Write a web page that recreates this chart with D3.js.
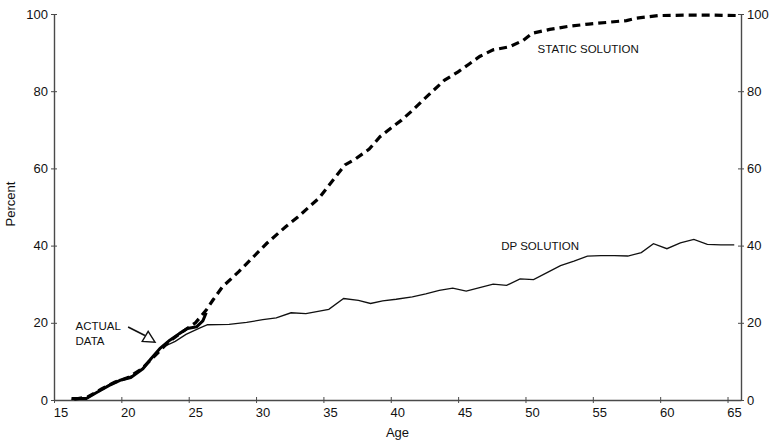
<!DOCTYPE html>
<html>
<head>
<meta charset="utf-8">
<script src="https://cdn.jsdelivr.net/npm/d3@7"></script>
<style>
	body { margin: 0; background: #fff; }
	svg { display: block; font-family: "Liberation Sans", Arial, sans-serif; }
	.tick-label { font-size: 13px; fill: #111; }
	.note { font-size: 11.5px; fill: #111; }
</style>
</head>
<body>
<svg id="chart" width="776" height="444"></svg>
<script>

// Axis ticks
const xTicks = [15, 20, 25, 30, 35, 40, 45, 50, 55, 60, 65];
const yTicks = [0, 20, 40, 60, 80, 100];

// Static solution (dashed)
const staticAge = [16.5, 17.5, 18.5, 19.5, 20.5, 21.5, 22.5, 23.5, 24.5, 25.5, 26.3, 26.8, 27.5, 28.7, 29.8, 30.8, 32.2, 33.1, 34.7, 35.9, 36.6, 37.4, 38.4, 39.2, 40.0, 40.8, 41.6, 42.4, 43.2, 44.0, 45.0, 45.8, 46.6, 47.6, 48.8, 49.8, 50.5, 51.8, 53.2, 54.7, 56.0, 57.5, 58.2, 59.9, 61.9, 63.9, 65.75];
const staticPct = [0.2, 0.8, 2.8, 4.6, 5.8, 8.0, 11.5, 15.0, 17.6, 20.0, 23.3, 25.9, 29.3, 33.2, 37.1, 40.6, 44.9, 47.4, 52.4, 57.8, 60.9, 62.5, 65.0, 68.2, 70.4, 72.5, 75.0, 77.7, 80.3, 82.9, 85.0, 87.0, 89.0, 90.7, 91.5, 93.1, 95.0, 96.0, 96.8, 97.4, 97.8, 98.3, 98.9, 99.6, 99.7, 99.7, 99.6];

// DP solution (thin)
const dpAge = [16.3, 17.4, 18.2, 19.2, 20.0, 20.8, 21.6, 22.2, 22.9, 24.0, 24.8, 25.8, 26.4, 28.0, 29.3, 30.5, 31.5, 32.6, 33.7, 35.4, 36.5, 37.6, 38.5, 39.4, 40.4, 41.6, 42.6, 43.6, 44.6, 45.6, 46.6, 47.6, 48.6, 49.6, 50.6, 51.6, 52.6, 53.6, 54.6, 55.6, 56.6, 57.6, 58.6, 59.5, 60.5, 61.5, 62.5, 63.5, 64.5, 65.5];
const dpPct = [0.2, 0.3, 2.0, 4.2, 5.3, 6.3, 8.3, 10.8, 13.4, 15.2, 17.0, 18.6, 19.5, 19.6, 20.1, 20.8, 21.3, 22.6, 22.4, 23.5, 26.3, 25.8, 25.0, 25.7, 26.1, 26.7, 27.5, 28.4, 29.0, 28.2, 29.1, 30.0, 29.7, 31.4, 31.2, 33.0, 34.8, 36.0, 37.3, 37.4, 37.4, 37.3, 38.2, 40.5, 39.2, 40.7, 41.6, 40.3, 40.2, 40.2];

// Actual data (thick)
const actualAge = [16.3, 17.4, 18.1, 19.1, 19.9, 20.7, 21.6, 22.2, 22.85, 23.6, 24.3, 24.9, 25.6, 26.05, 26.3];
const actualPct = [0.4, 0.4, 1.8, 3.8, 5.1, 5.8, 8.1, 10.7, 13.3, 15.5, 17.2, 18.5, 19.0, 20.5, 22.6];

const svg = d3.select('#chart');
const m = { l: 54, r: 741, t: 14, b: 400 };

const x = d3.scaleLinear().domain([15, 66]).range([m.l, m.r]);
const y = d3.scaleLinear().domain([0, 100]).range([m.b, m.t]);

const axisColor = '#4a4a4a';

// X axis (ticks cross the line)
const gx = svg.append('g').attr('transform', 'translate(0,' + m.b + ')');
gx.call(d3.axisBottom(x).tickValues(xTicks).tickSize(3).tickSizeOuter(0));
gx.select('.domain').attr('stroke', axisColor).attr('stroke-width', 1.4);
gx.selectAll('.tick line').attr('stroke', axisColor).attr('y1', -3).attr('y2', 3);
gx.selectAll('.tick text').attr('class', 'tick-label').attr('dx', 6.5).attr('y', 8).attr('dy', '0.71em');

// Left y axis
const gl = svg.append('g').attr('transform', 'translate(' + m.l + ',0)');
gl.call(d3.axisLeft(y).tickValues(yTicks).tickSize(3).tickSizeOuter(0));
gl.select('.domain').attr('stroke', axisColor).attr('stroke-width', 1.4);
gl.selectAll('.tick line').attr('stroke', axisColor).attr('x1', 3).attr('x2', -3);
gl.selectAll('.tick text').attr('class', 'tick-label').attr('x', -6);

// Right y axis
const gr = svg.append('g').attr('transform', 'translate(' + m.r + ',0)');
gr.call(d3.axisRight(y).tickValues(yTicks).tickSize(3).tickSizeOuter(0));
gr.select('.domain').attr('stroke', axisColor).attr('stroke-width', 1.4);
gr.selectAll('.tick line').attr('stroke', axisColor).attr('x1', -3).attr('x2', 3);
gr.selectAll('.tick text').attr('class', 'tick-label').attr('x', 6);

svg.selectAll('g').attr('font-family', null).attr('font-size', null);

// Axis titles
svg.append('text')
	.attr('class', 'tick-label')
	.attr('x', (m.l + m.r) / 2)
	.attr('y', 437)
	.attr('text-anchor', 'middle')
	.text('Age');

svg.append('text')
	.attr('class', 'tick-label')
	.attr('transform', 'translate(15,204) rotate(-90)')
	.attr('text-anchor', 'middle')
	.text('Percent');

// Lines
const line = d3.line().x(d => x(d[0])).y(d => y(d[1]));
const zip = (a, b) => a.map((v, i) => [v, b[i]]);

svg.append('path')
	.datum(zip(dpAge, dpPct))
	.attr('fill', 'none')
	.attr('stroke', '#111')
	.attr('stroke-width', 1.3)
	.attr('d', line);

svg.append('path')
	.datum(zip(actualAge, actualPct))
	.attr('fill', 'none')
	.attr('stroke', '#000')
	.attr('stroke-width', 3)
	.attr('stroke-linejoin', 'round')
	.attr('d', line);

svg.append('path')
	.datum(zip(staticAge, staticPct))
	.attr('fill', 'none')
	.attr('stroke', '#000')
	.attr('stroke-width', 3.2)
	.attr('stroke-dasharray', '8,5')
	.attr('d', line);

// Labels
svg.append('text').attr('class', 'note').attr('x', x(50.9)).attr('y', y(90.0)).text('STATIC SOLUTION');
svg.append('text').attr('class', 'note').attr('x', x(48.2)).attr('y', y(38.8)).text('DP SOLUTION');

svg.append('text').attr('class', 'note').attr('x', x(16.6)).attr('y', y(18.2)).text('ACTUAL');
svg.append('text').attr('class', 'note').attr('x', x(16.6)).attr('y', y(14.3)).text('DATA');

// Arrow with hollow triangle
svg.append('line')
	.attr('x1', x(20.5)).attr('y1', y(18.9))
	.attr('x2', x(21.75)).attr('y2', y(16.7))
	.attr('stroke', '#111').attr('stroke-width', 1.6);

const tri = [[21.99, 17.8], [21.55, 15.2], [22.5, 15.0]];
svg.append('path')
	.attr('d', 'M' + tri.map(p => x(p[0]) + ',' + y(p[1])).join('L') + 'Z')
	.attr('fill', '#fff')
	.attr('stroke', '#111')
	.attr('stroke-width', 1.4);

</script>
</body>
</html>
